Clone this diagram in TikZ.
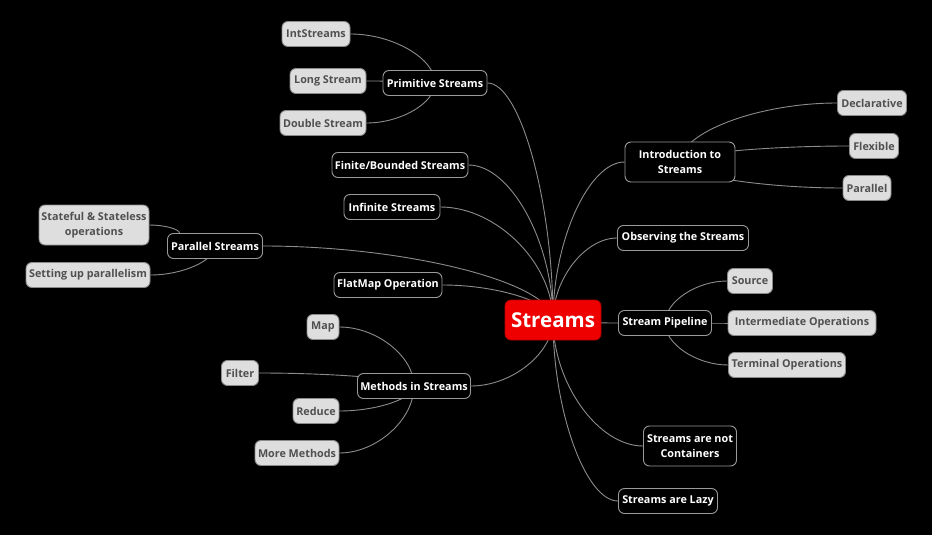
\documentclass[tikz,border=0pt]{standalone}
\usepackage{fontspec}
\setmainfont{Open Sans}
\usetikzlibrary{calc,backgrounds}

\definecolor{rootred}{HTML}{EE0000}
\definecolor{rootedge}{HTML}{B00000}
\definecolor{topicedge}{HTML}{9A9A9A}
\definecolor{leaffill}{HTML}{DEDEDE}
\definecolor{leafedge}{HTML}{8A8A8A}
\definecolor{leaftext}{HTML}{505050}
\definecolor{linkgray}{HTML}{8C8C8C}

\pgfdeclarelayer{edges}
\pgfsetlayers{background,edges,main}

\tikzset{
  root/.style={draw=rootedge, fill=rootred, text=white, rounded corners=6pt,
    font=\fontsize{20.5}{24}\selectfont\bfseries, minimum width=96pt,
    minimum height=40pt, inner sep=0pt, line width=0.8pt},
  topic/.style={draw=topicedge, fill=black, text=white, rounded corners=6pt,
    font=\fontsize{10.8}{15.5}\selectfont\bfseries, minimum height=25pt,
    inner xsep=2pt, inner ysep=2pt, line width=0.9pt, align=center},
  leaf/.style={topic, draw=leafedge, fill=leaffill, text=leaftext},
  link/.style={draw=linkgray, line width=0.9pt},
  % curve leaving the parent vertically and reaching the child horizontally
  vh/.style={to path={.. controls ($(\tikztostart)!0.5!(\tikztostart|-\tikztotarget)$)
      and ($(\tikztotarget)!0.5!(\tikztostart|-\tikztotarget)$) .. (\tikztotarget) \tikztonodes}}
}

\begin{document}
\begin{tikzpicture}[x=1pt,y=1pt]
\begin{pgfonlayer}{background}
  \fill[black] (0,0) rectangle (932,-535);
\end{pgfonlayer}
\useasboundingbox (0,0) rectangle (932,-535);

% central topic
\node[root] (root) at (553,-320) {Streams};

% left branches
\node[topic, minimum width=104pt] (prim) at (435,-83) {Primitive Streams};
\node[leaf, minimum width=68pt] (ints) at (316,-34) {IntStreams};
\node[leaf, minimum width=76pt] (long) at (328,-81) {Long Stream};
\node[leaf, minimum width=86pt] (dbl) at (323,-123) {Double Stream};

\node[topic, minimum width=136pt] (finite) at (400,-165) {Finite/Bounded Streams};
\node[topic, minimum width=96pt] (inf) at (392,-207) {Infinite Streams};

\node[topic, minimum width=95pt] (par) at (215,-246) {Parallel Streams};
\node[leaf, minimum width=110pt, minimum height=40pt] (sf) at (94,-225) {Stateful \& Stateless\\operations};
\node[leaf, minimum width=124pt] (sup) at (88,-275) {Setting up parallelism};

\node[topic, minimum width=108pt] (flat) at (388,-285) {FlatMap Operation};

\node[topic, minimum width=113pt] (meth) at (414,-386) {Methods in Streams};
\node[leaf, minimum width=32pt] (map) at (323,-327) {Map};
\node[leaf, minimum width=37pt] (filt) at (240,-373) {Filter};
\node[leaf, minimum width=46pt] (reduce) at (316,-411) {Reduce};
\node[leaf, minimum width=84pt] (more) at (297,-453) {More Methods};

% right branches
\node[topic, minimum width=110pt, minimum height=40pt] (intro) at (680,-162) {Introduction to\\Streams};
\node[leaf, minimum width=69pt] (decl) at (872,-103) {Declarative};
\node[leaf, minimum width=49pt] (flex) at (874,-146) {Flexible};
\node[leaf, minimum width=48pt] (paral) at (867,-188) {Parallel};

\node[topic, minimum width=131pt] (obs) at (683,-238) {Observing the Streams};

\node[topic, minimum width=93pt] (pipe) at (665,-323) {Stream Pipeline};
\node[leaf, minimum width=45pt] (src) at (750,-281) {Source};
\node[leaf, minimum width=148pt] (inter) at (802,-323) {Intermediate Operations};
\node[leaf, minimum width=117pt] (term) at (787,-365) {Terminal Operations};

\node[topic, minimum width=93pt, minimum height=40pt] (cont) at (690,-446) {Streams are not\\Containers};
\node[topic, minimum width=99pt] (lazy) at (668,-501) {Streams are Lazy};

% connectors
\begin{pgfonlayer}{edges}
  \foreach \t in {prim, finite, inf, par, flat, meth}
    \path[link] (root.center) to[vh] (\t.east);
  \foreach \t in {intro, obs, pipe, cont, lazy}
    \path[link] (root.center) to[vh] (\t.west);

  \foreach \t in {ints, long, dbl}
    \path[link] (prim.center) to[vh] (\t.east);
  \path[link] (par.160) to[vh] (sf.east);
  \path[link] (par.center) to[vh] (sup.east);
  \foreach \t in {map, filt, reduce, more}
    \path[link] (meth.center) to[vh] (\t.east);
  \foreach \t in {decl, flex, paral}
    \path[link] (intro.center) to[vh] (\t.west);
  \foreach \t in {src, inter, term}
    \path[link] (pipe.center) to[vh] (\t.west);
\end{pgfonlayer}
\end{tikzpicture}
\end{document}
